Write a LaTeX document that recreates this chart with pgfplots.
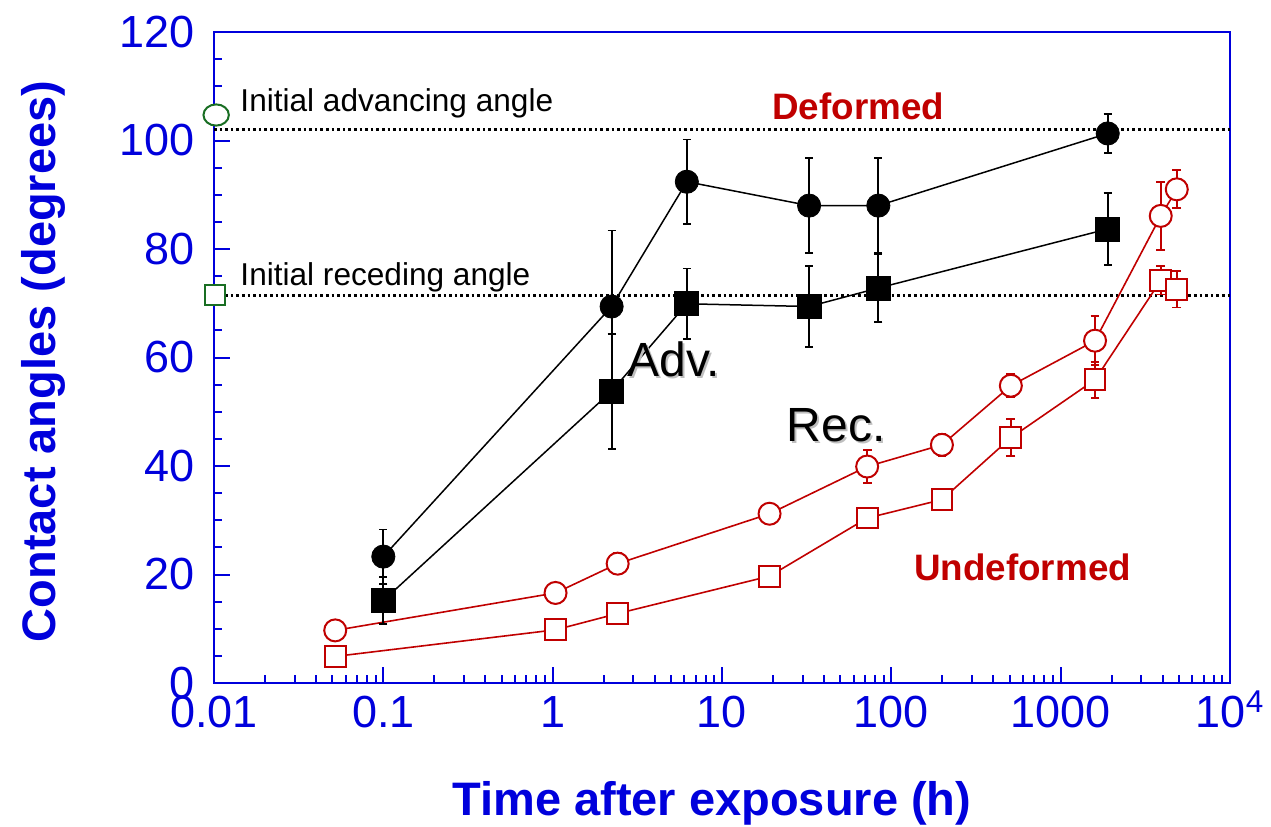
\documentclass[border=0pt]{standalone}
\usepackage{fontspec}
\setmainfont{Liberation Sans}
\usepackage{pgfplots}
\usepackage{pgfplotstable}
\pgfplotsset{compat=1.18}
\definecolor{axblue}{RGB}{0,0,220}
\definecolor{dred}{RGB}{192,0,0}
\definecolor{dgreen}{RGB}{25,110,35}

% undeformed, advancing (open circles)
\pgfplotstableread{
x     y     e
0.052 9.7   0
1.04  16.6  0
2.42  22    2
19.1  31.2  0.5
72    39.9  3
199   43.9  2
508   54.8  2.1
1596  63.1  4.5
3900  86.1  6.3
4850  91    3.5
}\undefadv
% undeformed, receding (open squares)
\pgfplotstableread{
x     y     e
0.052 4.9   0
1.04  9.8   0
2.42  12.8  0
19.1  19.7  0
72    30.4  0
199   33.8  0
508   45.2  3.4
1596  55.9  3.3
3900  74.2  2.6
4850  72.6  3.4
}\undefrec
% deformed, advancing (filled circles)
\pgfplotstableread{
x     y     e
0.1   23.3  5
2.23  69.4  14
6.2   92.4  7.8
32.7  88    8.8
83.8  88    8.8
1897  101.3 3.6
}\defadv
% deformed, receding (filled squares)
\pgfplotstableread{
x     y     e
0.1   15.2  4.3
2.23  53.8  10.6
6.2   69.9  6.5
32.7  69.4  7.4
83.8  72.8  6.2
1897  83.7  6.6
}\defrec

\pgfplotsset{
  blk/.style={black, line width=0.75pt, no markers,
    error bars/y dir=both, error bars/y explicit,
    error bars/error bar style={line width=0.9pt, black},
    error bars/error mark options={rotate=90, mark size=2pt, line width=0.9pt, black}},
  rd/.style={dred, line width=0.8pt, no markers,
    error bars/y dir=both, error bars/y explicit,
    error bars/error bar style={line width=0.9pt, dred},
    error bars/error mark options={rotate=90, mark size=2.2pt, line width=0.9pt, dred}},
  rdmk/.style={only marks, mark options={solid, draw=dred, fill=white, line width=1pt}},
}

\begin{document}
\begin{tikzpicture}
\begin{axis}[
  xmode=log, scale only axis, width=508pt, height=325.5pt,
  xmin=0.01, xmax=10000, ymin=0, ymax=120,
  clip=false,
  axis line style={axblue, line width=1pt},
  every tick/.style={axblue, line width=1pt},
  tick align=inside, xtick pos=bottom, ytick pos=left,
  major tick length=8pt, minor tick length=4pt,
  xtick={0.01,0.1,1,10,100,1000,10000},
  xticklabels={0.01,0.1,1,10,100,1000,10\smash{\textsuperscript{4}}},
  ytick={0,20,...,120}, minor y tick num=3,
  ticklabel style={font=\fontsize{22.5}{24}\selectfont, text=axblue},
  /pgf/number format/assume math mode=true,
  yticklabel style={xshift=-6pt},
  xticklabel style={yshift=-3pt},
]
% reference lines (initial angles)
\addplot[black, line width=1.6pt, dash pattern=on 1.3pt off 1.5pt] coordinates {(0.01,102) (10000,102)};
\addplot[black, line width=1.6pt, dash pattern=on 1.3pt off 1.5pt] coordinates {(0.01,71.4) (10000,71.4)};
\addplot[dgreen, only marks, mark=*, mark size=5.3pt, mark options={xscale=1.2, line width=1pt, fill=white}] coordinates {(0.0103,104.7)};
\addplot[dgreen, only marks, mark=square*, mark size=5pt, mark options={line width=1pt, fill=white}] coordinates {(0.0101,71.6)};

\addplot[rd] table[x=x, y=y, y error=e] {\undefadv};
\addplot[rd] table[x=x, y=y, y error=e] {\undefrec};
\addplot[rdmk, mark=*, mark size=5.5pt] table[x=x, y=y] {\undefadv};
\addplot[rdmk, mark=square*, mark size=5.2pt] table[x=x, y=y] {\undefrec};

\addplot[blk] table[x=x, y=y, y error=e] {\defadv};
\addplot[blk] table[x=x, y=y, y error=e] {\defrec};
\addplot[black, only marks, mark=*, mark size=5.8pt] table[x=x, y=y] {\defadv};
\addplot[black, only marks, mark=square*, mark size=6pt] table[x=x, y=y] {\defrec};

\node[anchor=base west, inner sep=0, font=\fontsize{15.8}{16}\selectfont] at (axis cs:0.01426,105.3) {Initial advancing angle};
\node[anchor=base west, inner sep=0, font=\fontsize{15.8}{16}\selectfont] at (axis cs:0.01426,73.3) {Initial receding angle};
\node[anchor=base, inner sep=0, text=dred, font=\fontsize{18.4}{19}\selectfont\bfseries] at (axis cs:63.8,103.9) {Deformed};
\node[anchor=base, inner sep=0, text=dred, font=\fontsize{18.4}{19}\selectfont\bfseries] at (axis cs:596,18.9) {Undeformed};
\node[anchor=base, inner sep=0, text=black!25, font=\fontsize{24}{24}\selectfont] at ([shift={(1pt,-1pt)}]axis cs:5.2,56.5) {Adv.};
\node[anchor=base, inner sep=0, font=\fontsize{24}{24}\selectfont] at (axis cs:5.2,56.5) {Adv.};
\node[anchor=base, inner sep=0, text=black!25, font=\fontsize{24}{24}\selectfont] at ([shift={(1pt,-1pt)}]axis cs:47.3,44.5) {Rec.};
\node[anchor=base, inner sep=0, font=\fontsize{24}{24}\selectfont] at (axis cs:47.3,44.5) {Rec.};

\node[anchor=base, inner sep=0, text=axblue, font=\fontsize{23.5}{24}\selectfont\bfseries] at ([yshift=-66pt]rel axis cs:0.49,0) {Time after exposure (h)};
\node[anchor=base, inner sep=0, rotate=90, text=axblue, font=\fontsize{23.5}{24}\selectfont\bfseries] at ([xshift=-79pt]rel axis cs:0,0.494) {Contact angles (degrees)};

\coordinate (bl) at (rel axis cs:0,0);
\coordinate (tr) at (rel axis cs:1,1);
\end{axis}
\pgfresetboundingbox
\path[use as bounding box] ([shift={(-107pt,-71.5pt)}]bl) rectangle ([shift={(20.5pt,16pt)}]tr);
\end{tikzpicture}
\end{document}
